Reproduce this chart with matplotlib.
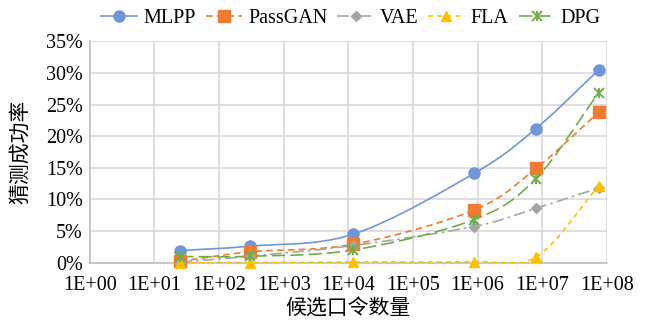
import numpy as np
import matplotlib
matplotlib.use('Agg')
import matplotlib.pyplot as plt
from matplotlib.lines import Line2D
from matplotlib.legend_handler import HandlerTuple

plt.rcParams['font.family'] = ['Liberation Serif', 'Noto Sans CJK SC']
plt.rcParams['axes.unicode_minus'] = False

# 候选口令数量
guesses = [25, 300, 1.2e4, 8.8e5, 8e6, 7.5e7]
series_names = ['MLPP', 'PassGAN', 'VAE', 'FLA', 'DPG']
mlpp = [1.9, 2.6, 4.5, 14.1, 21.2, 30.5]
passgan = [0.2, 1.7, 2.9, 8.3, 14.9, 23.8]
vae = [0.1, 1.0, 2.7, 5.7, 8.6, 11.8]
fla = [0.0, 0.0, 0.1, 0.15, 0.85, 12.1]
dpg = [0.95, 1.0, 2.0, 6.8, 13.3, 26.9]

colors = ['#7096D8', '#ED7D31', '#A5A5A5', '#FFC000', '#70AD47']
markers = ['o', 's', 'D', '^', 'x']
msizes = [8, 8, 5.5, 7.5, 7]
styles = ['-', (0, (4, 2.5)), (0, (7, 2.5, 1.5, 2.5)), (0, (3, 2.5)), (0, (8, 3))]


def smooth(xs, ys, n=30):
    # Excel 风格的平滑线（Catmull-Rom，log x 空间）
    lx = np.log10(xs)
    ys = np.asarray(ys, float)
    px = np.concatenate([[2 * lx[0] - lx[1]], lx, [2 * lx[-1] - lx[-2]]])
    py = np.concatenate([[2 * ys[0] - ys[1]], ys, [2 * ys[-1] - ys[-2]]])
    ox, oy = [], []
    t = np.linspace(0, 1, n)
    for i in range(1, len(px) - 2):
        for p, o in ((px, ox), (py, oy)):
            p0, p1, p2, p3 = p[i - 1], p[i], p[i + 1], p[i + 2]
            o.extend(0.5 * ((2 * p1) + (-p0 + p2) * t
                            + (2 * p0 - 5 * p1 + 4 * p2 - p3) * t ** 2
                            + (-p0 + 3 * p1 - 3 * p2 + p3) * t ** 3))
    return 10 ** np.array(ox), np.array(oy)


fig = plt.figure(figsize=(6.56, 3.21), dpi=100)
ax = fig.add_axes([0.137, 0.182, 0.788, 0.689])

data = [mlpp, passgan, vae, fla, dpg]
handles = []
for name, ys, c, m, ms, ls in zip(series_names, data, colors, markers, msizes, styles):
    sx, sy = smooth(guesses, ys)
    ax.plot(sx, np.clip(sy, 0, None), color=c, lw=1.2, ls=ls, zorder=3)
    ax.plot(guesses, ys, ls='none', marker=m, color=c, ms=ms,
            mew=1.4 if m == 'x' else 1, zorder=4, clip_on=False)
    h = Line2D([], [], color=c, ls=ls, lw=1.2, marker=m, ms=ms,
               mew=1.4 if m == 'x' else 1)
    if m == 'x':
        # Excel 的星形标记：X 加一条竖线
        ax.plot(guesses, ys, ls='none', marker='|', color=c, ms=ms,
                mew=1.4, zorder=4, clip_on=False)
        h = (h, Line2D([], [], ls='none', marker='|', color=c, ms=ms, mew=1.4))
    handles.append(h)

ax.set_xscale('log')
ax.set_xlim(1, 1e8)
ax.set_ylim(0, 35)
ax.set_xticks([10.0 ** k for k in range(9)])
ax.set_xticklabels(['1E+%02d' % k for k in range(9)])
ax.minorticks_off()
ax.set_yticks(range(0, 36, 5))
ax.set_yticklabels(['%d%%' % v for v in range(0, 36, 5)])
ax.tick_params(labelsize=14.5, length=0)
ax.tick_params(axis='x', pad=10)
ax.tick_params(axis='y', pad=5)
ax.grid(True, color='#D9D9D9', lw=1.2)
ax.set_axisbelow(True)
for s in ['top', 'right']:
    ax.spines[s].set_visible(False)
for s in ['left', 'bottom']:
    ax.spines[s].set_color('#BFBFBF')
    ax.spines[s].set_linewidth(1.2)

ax.set_xlabel('候选口令数量', fontsize=15, labelpad=3)
ax.set_ylabel('猜测成功率', fontsize=15, labelpad=11)

fig.legend(handles, series_names, loc='center', bbox_to_anchor=(0.535, 0.942),
           ncol=5, frameon=False, fontsize=14.5, handlelength=1.8,
           columnspacing=0.5, handletextpad=0.3,
           handler_map={tuple: HandlerTuple(ndivide=1)})

fig.savefig('out.png', dpi=100)
